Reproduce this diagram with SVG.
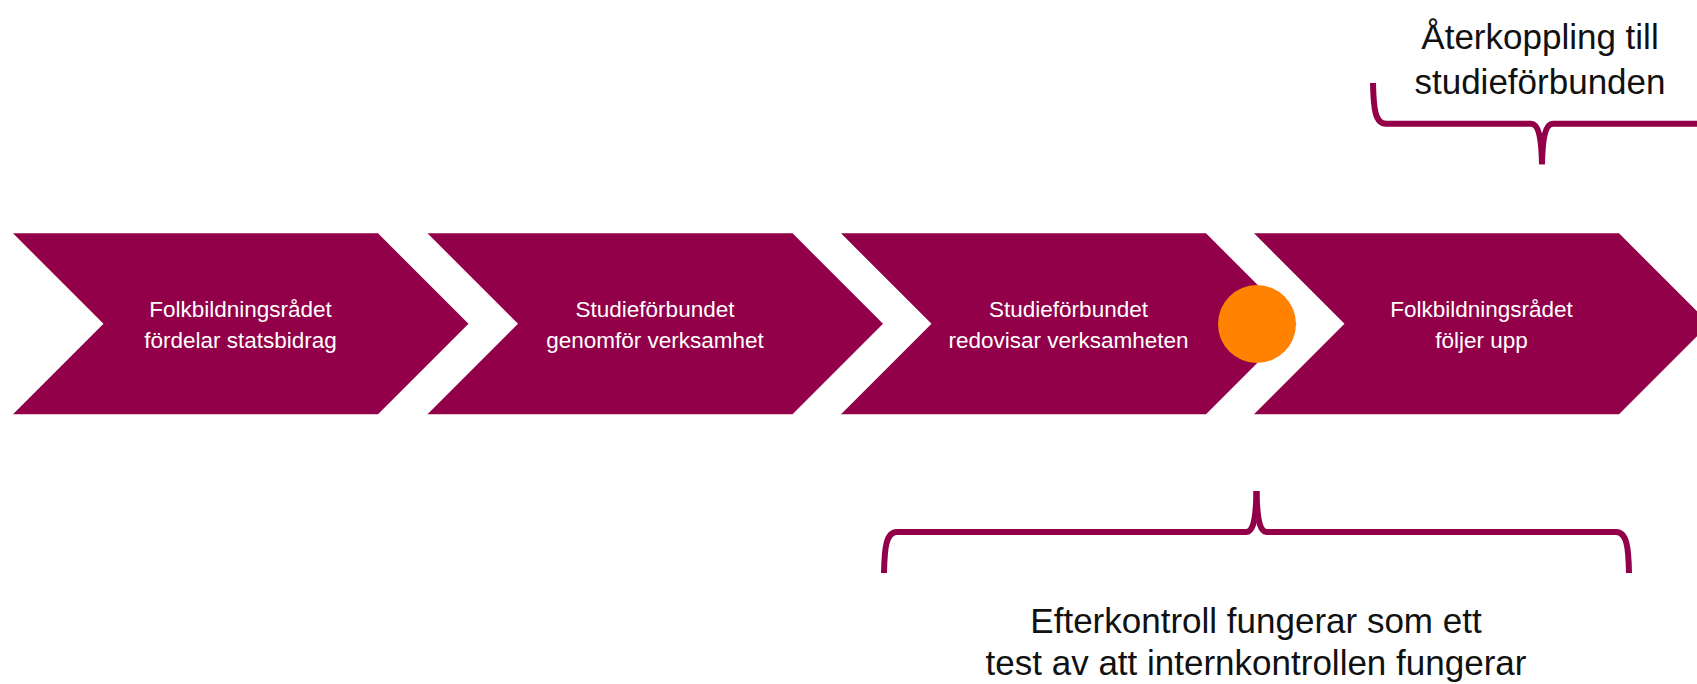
<svg xmlns="http://www.w3.org/2000/svg" width="1697" height="684" viewBox="0 0 1697 684">
  <style>
    .chev { fill: #920049; }
    .lbl { font-family: "Liberation Sans", Arial, sans-serif; font-size: 22.5px; fill: #ffffff; text-anchor: middle; }
    .note { font-family: "Liberation Sans", Arial, sans-serif; font-size: 35px; fill: #111111; text-anchor: middle; }
    .brace { fill: none; stroke: #920049; stroke-width: 6; stroke-linecap: butt; stroke-linejoin: round; }
  </style>
  <defs>
    <polygon id="chevShape" points="0,0 365,0 455.5,90.5 365,181 0,181 90.5,90.5"/>
  </defs>
  <rect width="1697" height="684" fill="#ffffff"/>

  <g id="step1">
    <use href="#chevShape" class="chev" x="13" y="233.3"/>
    <text class="lbl" x="240.5" y="317">Folkbildningsrådet</text>
    <text class="lbl" x="240.5" y="348">fördelar statsbidrag</text>
  </g>

  <g id="step2">
    <use href="#chevShape" class="chev" x="427.5" y="233.3"/>
    <text class="lbl" x="655" y="317">Studieförbundet</text>
    <text class="lbl" x="655" y="348">genomför verksamhet</text>
  </g>

  <g id="step3">
    <use href="#chevShape" class="chev" x="841" y="233.3"/>
    <text class="lbl" x="1068.5" y="317">Studieförbundet</text>
    <text class="lbl" x="1068.5" y="348">redovisar verksamheten</text>
  </g>

  <g id="step4">
    <use href="#chevShape" class="chev" x="1254" y="233.3"/>
    <text class="lbl" x="1481.5" y="317">Folkbildningsrådet</text>
    <text class="lbl" x="1481.5" y="348">följer upp</text>
  </g>

  <g id="marker">
    <circle cx="1257" cy="324" r="39" fill="#FF8300"/>
  </g>

  <g id="connectors">
    <g id="feedback-brace">
      <path class="brace" d="M 1373,83 C 1373.5,108 1375,123.7 1386,123.7 L 1531,123.7 C 1538.5,123.7 1541.5,138 1542,164.3"/>
      <path class="brace" d="M 1711,83 C 1710.5,108 1709,123.7 1698,123.7 L 1553,123.7 C 1545.5,123.7 1542.5,138 1542,164.3"/>
    </g>
    <g id="control-brace">
      <path class="brace" d="M 884,573 C 884.5,548 886,532 897,532 L 1246,532 C 1254,532 1256,516 1256.5,491"/>
      <path class="brace" d="M 1629,573 C 1628.5,548 1627,532 1616,532 L 1267,532 C 1259,532 1257,516 1256.5,491"/>
    </g>
  </g>

  <g id="feedback-label">
    <text class="note" x="1540" y="49">Återkoppling till</text>
    <text class="note" x="1540" y="94">studieförbunden</text>
  </g>

  <g id="control-label">
    <text class="note" x="1256" y="633">Efterkontroll fungerar som ett</text>
    <text class="note" x="1256" y="675">test av att internkontrollen fungerar</text>
  </g>
</svg>
